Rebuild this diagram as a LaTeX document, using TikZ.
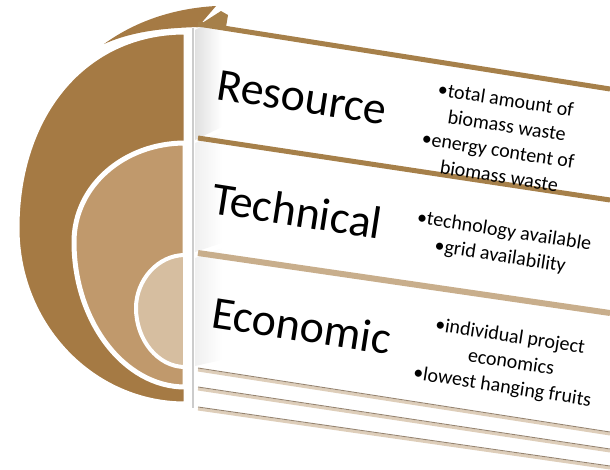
\documentclass[tikz,border=0pt]{standalone}
\usepackage{fontspec}
\setmainfont{Carlito}
\definecolor{goldD}{RGB}{165,122,68}
\definecolor{goldM}{RGB}{192,153,108}
\definecolor{goldL}{RGB}{214,190,160}
\definecolor{goldLine}{RGB}{166,128,74}
\definecolor{tanLine}{RGB}{200,174,140}
\definecolor{edgeLine}{RGB}{150,132,112}

\begin{document}
\begin{tikzpicture}[x=1pt,y=-1pt,
        ring/.style = {draw=white,line width=5pt},
        band/.style = {goldLine,line width=5pt},
        edge/.style = {edgeLine,line width=.9pt},
        title/.style = {anchor=base west,inner sep=0pt,rotate=-8.8,font=\fontsize{46}{50}\selectfont},
        items/.style = {align=center,inner sep=0pt,rotate=-8.8,font=\fontsize{20}{25.5}\selectfont}
        ]
        \useasboundingbox (0,0) rectangle (610,469);

        %Rings
        \fill[goldD] (104,44) .. controls (140,18) and (180,8) .. (216,6) -- (198,27)
            .. controls (170,28) and (135,30) .. (104,44) -- cycle;
        \filldraw[goldD,draw=white,line width=3pt] (185,33) .. controls (85,33) and (18,115) .. (18,228)
            .. controls (18,325) and (93,403) .. (185,403) -- cycle;
        \filldraw[goldM,ring] (185,143) .. controls (124,143) and (74,186) .. (74,242)
            .. controls (74,321) and (124,387) .. (185,387) -- cycle;
        \filldraw[goldL,ring,line width=4pt] (185,255) .. controls (158,255) and (136,280) .. (136,308)
            .. controls (136,340) and (158,367) .. (185,367) -- cycle;
        \draw[black!20,line width=1.2pt] (193,28) -- (193,408);

        %Panels
        \shade[left color=black!12,right color=white] (195,30) -- (222,16) -- (222,127) -- (195,140) -- cycle;
        \shade[left color=black!6,right color=white] (195,143) -- (222,132) -- (222,243) -- (195,252) -- cycle;
        \shade[left color=black!6,right color=white] (195,258) -- (222,248) -- (222,360) -- (195,366) -- cycle;
        \fill[goldLine] (196,27) -- (221,11) -- (228,15) -- (226,27) -- cycle;
        \draw[band] (198,24) -- (610,89);
        \draw[band] (198,138) -- (610,200);
        \draw[tanLine,line width=6pt] (198,253) -- (610,313);
        \foreach \a/\b in {368/432,387/449,407/466}
        {
        \draw[tanLine!60,line width=3pt] (198,\a+2) -- (610,\b+2);
        \draw[edge] (198,\a) -- (610,\b);
        }

        %Labels
        \node[title] (res) at (215,99) {Resource};
        \node[title] (tech) at (210,213) {Technical};
        \node[title] (eco) at (210,327) {Economic};
        \node[items] (resList) at (505,138) {\llap{•}total amount of\\biomass waste\\\llap{•}energy content of\\biomass waste};
        \node[items] (techList) at (507,245) {\llap{•}technology available\\\llap{•}grid availability};
        \node[items] (ecoList) at (511,363) {\llap{•}individual project\\economics\\\llap{•}lowest hanging fruits};

\end{tikzpicture}
\end{document}
